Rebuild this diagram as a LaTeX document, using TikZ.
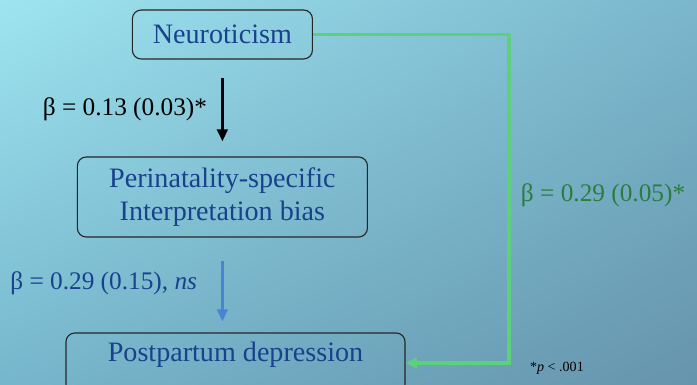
\documentclass[tikz,border=0pt]{standalone}
\usepackage{fontspec}
\setmainfont{LiberationSerif}[Extension=.ttf, UprightFont=*-Regular, ItalicFont=*-Italic,
    BoldFont=*-Bold, BoldItalicFont=*-BoldItalic]
\usetikzlibrary{arrows.meta, shadings}

\definecolor{navy}{RGB}{25,65,140}
\definecolor{pathgreen}{RGB}{92,208,122}
\definecolor{labelgreen}{RGB}{42,125,62}
\definecolor{pathblue}{RGB}{72,132,212}
\definecolor{bgtl}{RGB}{158,228,240}
\definecolor{bgtr}{RGB}{122,182,204}
\definecolor{bgbl}{RGB}{118,182,204}
\definecolor{bgbr}{RGB}{102,148,172}

\begin{document}
\begin{tikzpicture}[
    box/.style={rectangle, draw=black!85, line width=0.8pt, rounded corners=0.22cm,
        text=navy, font=\fontsize{20}{23}\selectfont, align=center},
    coef/.style={font=\fontsize{18}{21}\selectfont},
    direct/.style={line width=2.2pt, -{Triangle[length=0.3cm, width=0.26cm]}},
    total/.style={line width=2.2pt, draw=pathgreen, -{Triangle[length=0.28cm, width=0.26cm]}}
]
    \useasboundingbox (0,0) rectangle (17.425,9.625);
    \clip (0,0) rectangle (17.425,9.625);

    % Background
    \shade[upper left=bgtl, upper right=bgtr, lower left=bgbl, lower right=bgbr]
        (0,0) rectangle (17.425,9.625);

    % Variables
    \node[box, minimum width=4.5cm, minimum height=1.225cm] (neuro) at (5.56, 8.7625) {Neuroticism};
    \node[box, minimum width=7.25cm, minimum height=2.0cm] (bias) at (5.56, 4.7)
        {Perinatality-specific\\Interpretation bias};
    \node[box, minimum width=8.475cm, inner ysep=0pt, text height=0.725cm, text depth=0.775cm]
        (ppd) at (5.8875, 0.55) {Postpartum depression};

    % Paths
    \draw[direct, black, shorten <=0.45cm, shorten >=0.375cm] (neuro.south) -- (bias.north);
    \draw[direct, pathblue, shorten <=0.575cm, shorten >=0.275cm] (bias.south) -- (bias.south |- ppd.north);
    \coordinate (turn) at (12.725, 8.7625);
    \draw[total] (neuro.east) -- (turn) |- (ppd.east);

    % Coefficients
    \node[coef, anchor=east] (b1) at (5.3, 6.9) {β = 0.13 (0.03)*};
    \node[coef, anchor=east, text=navy] (b2) at (5.05, 2.55) {β = 0.29 (0.15), \textit{ns}};
    \node[coef, anchor=west, text=labelgreen] (b3) at (12.9, 4.75) {β = 0.29 (0.05)*};
    \node[anchor=west, font=\fontsize{10}{12}\selectfont] (note) at (13.13, 0.425) {*\textit{p} < .001};

\end{tikzpicture}
\end{document}
